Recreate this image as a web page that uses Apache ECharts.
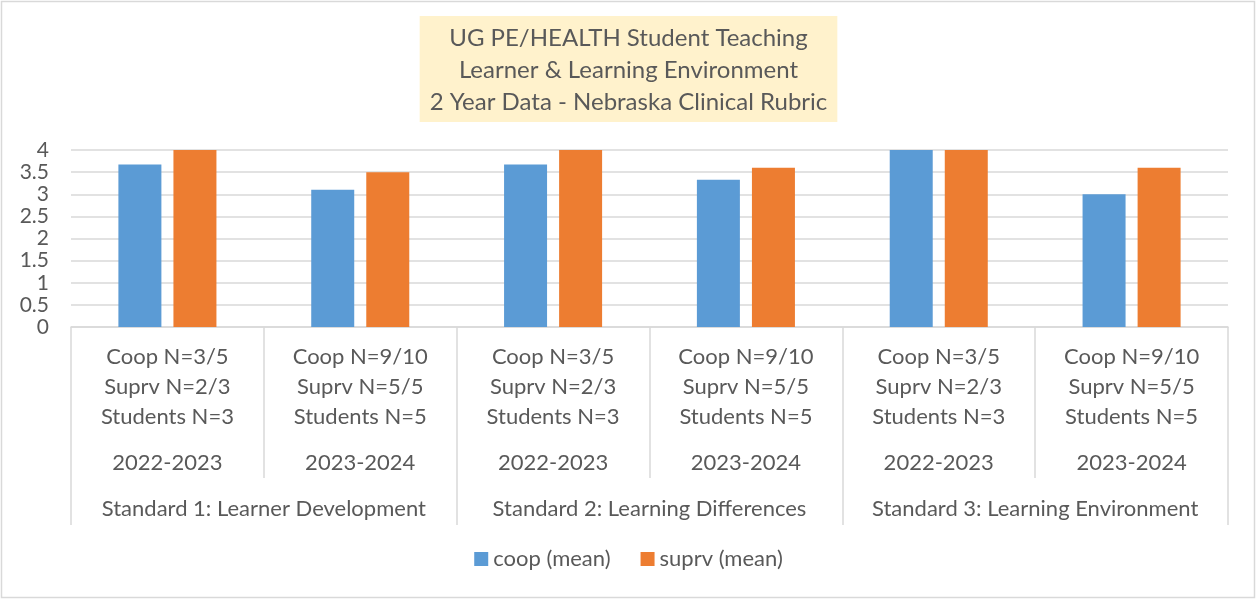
<!DOCTYPE html>
<html>
<head>
<meta charset="utf-8">
<script src="https://cdn.jsdelivr.net/npm/echarts@6/dist/echarts.min.js"></script>
<style>
  html, body { margin: 0; padding: 0; background: #fff; }
  #chart { width: 1257px; height: 600px; }
</style>
</head>
<body>
<div id="chart"></div>
<script>
// chart data
const titleLines = [
  'UG PE/HEALTH Student Teaching',
  'Learner & Learning Environment',
  '2 Year Data - Nebraska Clinical Rubric',
];
const countLabels = [
  'Coop N=3/5\nSuprv N=2/3\nStudents N=3',
  'Coop N=9/10\nSuprv N=5/5\nStudents N=5',
  'Coop N=3/5\nSuprv N=2/3\nStudents N=3',
  'Coop N=9/10\nSuprv N=5/5\nStudents N=5',
  'Coop N=3/5\nSuprv N=2/3\nStudents N=3',
  'Coop N=9/10\nSuprv N=5/5\nStudents N=5',
];
const years = ['2022-2023', '2023-2024', '2022-2023', '2023-2024', '2022-2023', '2023-2024'];
const standards = [
  'Standard 1: Learner Development',
  'Standard 2: Learning Differences',
  'Standard 3: Learning Environment',
];
const seriesNames = ['coop (mean)', 'suprv (mean)'];
const coopMean = [3.67, 3.1, 3.67, 3.33, 4, 3.0];
const suprvMean = [4, 3.5, 4, 3.6, 4, 3.6];

const font = 'Lato';
const textColor = '#595959';
const lineColor = '#d9d9d9';

const chart = echarts.init(document.getElementById('chart'));

const catAxis = (data, extra) => Object.assign({
  type: 'category',
  gridIndex: 0,
  position: 'bottom',
  offset: 0,
  data: data,
  axisLine: { show: false },
  axisTick: { show: false },
  splitLine: { show: false },
}, extra);

const catLabel = (margin) => ({
  interval: 0,
  color: textColor,
  fontFamily: font,
  fontSize: 22,
  lineHeight: 30,
  margin: margin,
});

const option = {
  animation: false,
  textStyle: { fontFamily: font },
  title: {
    text: titleLines.join('\n'),
    left: 'center',
    top: 16,
    backgroundColor: '#fff2cc',
    padding: [6, 10, 4, 10],
    textStyle: {
      color: textColor,
      fontFamily: font,
      fontWeight: 'normal',
      fontSize: 24,
      lineHeight: 32,
    },
  },
  legend: {
    data: seriesNames,
    bottom: 25,
    left: 'center',
    itemWidth: 14,
    itemHeight: 14,
    itemGap: 30,
    icon: 'rect',
    textStyle: { color: textColor, fontFamily: font, fontSize: 22 },
  },
  grid: {
    left: 71,
    right: 29,
    top: 150,
    bottom: 273,
    containLabel: false,
    outerBoundsMode: 'none',
  },
  xAxis: [
    catAxis(countLabels, {
      axisLine: { show: true, lineStyle: { color: lineColor, width: 1.5 } },
      axisLabel: catLabel(15),
    }),
    catAxis(years, {
      axisTick: { show: true, interval: 0, length: 151, lineStyle: { color: lineColor, width: 1.5 } },
      axisLabel: catLabel(121),
    }),
    catAxis(standards, {
      axisTick: { show: true, interval: 0, length: 198, lineStyle: { color: lineColor, width: 1.5 } },
      axisLabel: catLabel(167),
    }),
  ],
  yAxis: {
    type: 'value',
    min: 0,
    max: 4,
    interval: 0.5,
    axisLine: { show: false },
    axisTick: { show: false },
    splitLine: { lineStyle: { color: lineColor, width: 1.5 } },
    axisLabel: { color: textColor, fontFamily: font, fontSize: 21, margin: 22 },
  },
  series: [
    {
      name: seriesNames[0],
      type: 'bar',
      xAxisIndex: 0,
      data: coopMean,
      itemStyle: { color: '#5b9bd5' },
      barWidth: 43,
      barGap: '28%',
    },
    {
      name: seriesNames[1],
      type: 'bar',
      xAxisIndex: 0,
      data: suprvMean,
      itemStyle: { color: '#ed7d31' },
      barWidth: 43,
      barGap: '28%',
    },
  ],
  graphic: [{
    type: 'rect',
    silent: true,
    shape: { x: 1.5, y: 1.5, width: 1253, height: 596 },
    style: { fill: 'none', stroke: lineColor, lineWidth: 1.5 },
  }],
};

chart.setOption(option);
</script>
</body>
</html>
